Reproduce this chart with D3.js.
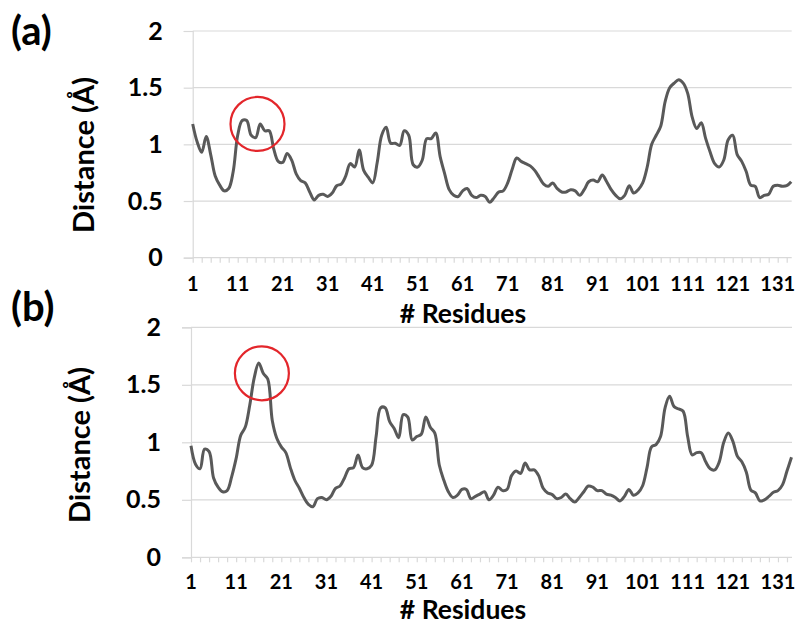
<!DOCTYPE html>
<html>
<head>
<meta charset="utf-8">
<script src="https://cdn.jsdelivr.net/npm/d3@7"></script>
<style>
  body { margin: 0; background: #fff; }
  text { font-family: Lato, "Open Sans", sans-serif; font-weight: bold; fill: #000; }
</style>
</head>
<body>
<svg id="chart" width="798" height="626"></svg>
<script>
var residues = d3.range(1, 135);

var distanceA = [
  1.18, 1.02, 0.93, 1.07, 0.91, 0.72, 0.64, 0.59, 0.61, 0.76,
  1.08, 1.21, 1.21, 1.08, 1.06, 1.18, 1.12, 1.12, 0.96, 0.85,
  0.84, 0.92, 0.86, 0.74, 0.68, 0.66, 0.58, 0.51, 0.55, 0.56,
  0.54, 0.57, 0.635, 0.65, 0.72, 0.83, 0.80, 0.95, 0.77, 0.71,
  0.66, 0.84, 1.08, 1.15, 1.01, 1.01, 0.99, 1.12, 1.08, 0.82,
  0.80, 0.86, 1.05, 1.05, 1.10, 0.89, 0.74, 0.60, 0.55, 0.54,
  0.59, 0.61, 0.55, 0.53, 0.55, 0.54, 0.49, 0.53, 0.58, 0.59,
  0.66, 0.78, 0.88, 0.85, 0.83, 0.81, 0.77, 0.71, 0.65, 0.63,
  0.66, 0.61, 0.58, 0.58, 0.60, 0.59, 0.55, 0.60, 0.67, 0.685,
  0.67, 0.73, 0.67, 0.60, 0.55, 0.52, 0.55, 0.635, 0.57, 0.60,
  0.66, 0.80, 1.00, 1.08, 1.16, 1.38, 1.50, 1.54, 1.57, 1.54,
  1.45, 1.24, 1.14, 1.19, 1.05, 0.93, 0.83, 0.80, 0.86, 1.04,
  1.08, 0.91, 0.85, 0.76, 0.64, 0.63, 0.53, 0.55, 0.56, 0.63,
  0.64, 0.63, 0.635, 0.67
];

var distanceB = [
  0.97, 0.81, 0.77, 0.94, 0.92, 0.69, 0.61, 0.57, 0.58, 0.70,
  0.86, 1.06, 1.13, 1.32, 1.56, 1.69, 1.60, 1.55, 1.19, 1.035,
  0.96, 0.91, 0.78, 0.67, 0.60, 0.52, 0.46, 0.44, 0.51, 0.52,
  0.50, 0.53, 0.60, 0.62, 0.69, 0.77, 0.78, 0.89, 0.78, 0.77,
  0.80, 1.05, 1.30, 1.30, 1.18, 1.12, 1.04, 1.24, 1.22, 1.02,
  1.05, 1.07, 1.22, 1.13, 1.08, 0.80, 0.67, 0.57, 0.52, 0.54,
  0.59, 0.59, 0.51, 0.53, 0.55, 0.57, 0.50, 0.54, 0.61, 0.58,
  0.59, 0.71, 0.75, 0.73, 0.82, 0.76, 0.76, 0.71, 0.60, 0.56,
  0.545, 0.51, 0.52, 0.55, 0.51, 0.48, 0.52, 0.57, 0.62, 0.61,
  0.58, 0.58, 0.55, 0.54, 0.52, 0.49, 0.53, 0.59, 0.54, 0.56,
  0.62, 0.78, 0.96, 0.98, 1.05, 1.30, 1.40, 1.31, 1.29, 1.27,
  1.05, 0.89, 0.91, 0.91, 0.83, 0.77, 0.76, 0.83, 1.00, 1.08,
  1.01, 0.88, 0.83, 0.74, 0.585, 0.56, 0.49, 0.50, 0.53, 0.565,
  0.58, 0.63, 0.75, 0.87
];

var yTicks = [0, 0.5, 1, 1.5, 2];
var xLabelTicks = [1, 11, 21, 31, 41, 51, 61, 71, 81, 91, 101, 111, 121, 131];
var xMinorTicks = d3.range(1, 135, 2);

// circled region: [residue, distance]
var highlightA = [15.4, 1.18];
var highlightB = [16.7, 1.60];

var panels = [
  { label: '(a)', labelY: 45, values: distanceA, circle: highlightA,
    left: 192.7, step: 4.5, top: 31, bottom: 257.7, titleX: 84, titleY: 155,
    tickLabelGap: 33, xTitleGap: 65 },
  { label: '(b)', labelY: 321, values: distanceB, circle: highlightB,
    left: 191, step: 4.515, top: 327.3, bottom: 557.3, titleX: 80, titleY: 445,
    tickLabelGap: 31.5, xTitleGap: 62 }
];

var svg = d3.select('#chart');
var grid = '#d9d9d9';

panels.forEach(function (p) {
  var x = d3.scaleLinear()
    .domain([1, residues.length])
    .range([p.left, p.left + (residues.length - 1) * p.step]);
  var y = d3.scaleLinear().domain([0, 2]).range([p.bottom, p.top]);
  var right = x.range()[1] + 0.5;

  var g = svg.append('g');

  // gridlines
  g.append('g').selectAll('line')
    .data(yTicks.filter(function (d) { return d > 0; }))
    .enter().append('line')
    .attr('x1', p.left).attr('x2', right)
    .attr('y1', function (d) { return y(d); })
    .attr('y2', function (d) { return y(d); })
    .attr('stroke', grid).attr('stroke-width', 1.2);

  // y axis
  var yAxis = g.append('g')
    .attr('transform', 'translate(' + p.left + ',0)')
    .call(d3.axisLeft(y).tickValues(yTicks).tickSize(9).tickFormat(d3.format('')).tickPadding(21));
  yAxis.select('.domain').attr('stroke', grid).attr('stroke-width', 1.2);
  yAxis.selectAll('.tick line').attr('stroke', grid).attr('stroke-width', 1.2);
  yAxis.selectAll('.tick text').attr('font-size', 25).attr('font-family', null).attr('fill', '#000');

  // x axis
  var xAxis = g.append('g')
    .attr('transform', 'translate(0,' + p.bottom + ')')
    .call(d3.axisBottom(x).tickValues(xMinorTicks).tickSize(5).tickFormat('').tickSizeOuter(0));
  xAxis.select('.domain').attr('stroke', grid).attr('stroke-width', 1.2)
    .attr('d', 'M' + p.left + ',0H' + right);
  xAxis.selectAll('.tick line').attr('stroke', grid).attr('stroke-width', 1.2);

  g.append('g').selectAll('text')
    .data(xLabelTicks)
    .enter().append('text')
    .attr('x', function (d) { return x(d); })
    .attr('y', p.bottom + p.tickLabelGap)
    .attr('text-anchor', 'middle')
    .attr('font-size', 20)
    .text(function (d) { return d; });

  // titles
  g.append('text')
    .attr('x', 463).attr('y', p.bottom + p.xTitleGap)
    .attr('text-anchor', 'middle')
    .attr('font-size', 26.5)
    .text('# Residues');

  g.append('text')
    .attr('transform', 'translate(' + p.titleX + ',' + p.titleY + ') rotate(-90)')
    .attr('dy', '0.35em')
    .attr('text-anchor', 'middle')
    .attr('font-size', 29)
    .text('Distance (Å)');

  g.append('text')
    .attr('x', 11).attr('y', p.labelY)
    .attr('font-size', 40)
    .text(p.label);

  // data line
  var line = d3.line()
    .x(function (d, i) { return x(residues[i]); })
    .y(function (d) { return y(d); })
    .curve(d3.curveCatmullRom.alpha(0.5));

  g.append('path')
    .datum(p.values)
    .attr('fill', 'none')
    .attr('stroke', '#595959')
    .attr('stroke-width', 3)
    .attr('stroke-linejoin', 'round')
    .attr('d', line);

  g.append('circle')
    .attr('cx', x(p.circle[0]))
    .attr('cy', y(p.circle[1]))
    .attr('r', 27)
    .attr('fill', 'none')
    .attr('stroke', '#e3262b')
    .attr('stroke-width', 2.2);
});
</script>
</body>
</html>
